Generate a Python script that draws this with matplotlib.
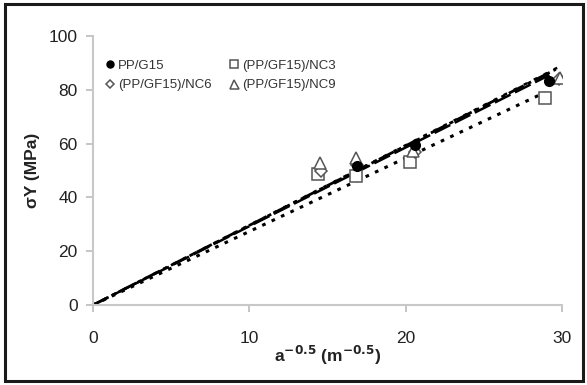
import matplotlib
matplotlib.use("Agg")
import matplotlib.pyplot as plt
from matplotlib.patches import Rectangle

plt.rcParams['font.family'] = ['Liberation Sans', 'DejaVu Sans']

# Data
series_names = ["PP/G15", "(PP/GF15)/NC3", "(PP/GF15)/NC6", "(PP/GF15)/NC9"]
g15_x = [16.9, 20.6, 29.2]
g15_y = [51.8, 59.4, 83.1]
nc3_x = [14.4, 16.8, 20.3, 28.9]
nc3_y = [48.8, 47.8, 53.1, 77.0]
nc6_x = [14.6, 16.9, 20.6, 29.8]
nc6_y = [49.9, 52.0, 56.7, 84.0]
nc9_x = [14.5, 16.85, 20.5, 29.9]
nc9_y = [52.7, 54.6, 57.4, 84.5]

# fit lines through origin: end points
fit_x_end = [29.2, 28.9, 29.6, 29.9]
fit_y_end = [85.5, 79.0, 87.6, 88.8]

xticks = [0, 10, 20, 30]
yticks = [0, 20, 40, 60, 80, 100]

fig = plt.figure(figsize=(5.87, 3.85), dpi=100)
fig.patch.set_facecolor('white')
# outer frame
fig.add_artist(Rectangle((5/587, 4/385), 578/587, 377/385, transform=fig.transFigure,
                         fill=False, edgecolor='#1a1a1a', linewidth=2.2))

ax = fig.add_axes([93/587, (385-305)/385, (562-93)/587, (305-36)/385])

gray = '#555555'
line_styles = [(0, (7, 2)), (0, (1.2, 2.2)), (0, (6, 1.5, 1.5, 1.5)), (0, (1.5, 3))]
line_widths = [1.8, 2.2, 2.0, 1.8]
for xe, ye, ls, lw in zip(fit_x_end, fit_y_end, line_styles, line_widths):
    ax.plot([0, xe], [0, ye], color='black', linestyle=ls, linewidth=lw, zorder=2)

ms = 7
h1, = ax.plot(g15_x, g15_y, 'o', color='black', markersize=ms, label=series_names[0], zorder=4)
h2, = ax.plot(nc3_x, nc3_y, 's', markerfacecolor='white', markeredgecolor=gray, markeredgewidth=1.1,
              markersize=ms + 1, label=series_names[1], zorder=3)
h3, = ax.plot(nc6_x, nc6_y, 'D', markerfacecolor='white', markeredgecolor=gray, markeredgewidth=1.1,
              markersize=ms - 1, label=series_names[2], zorder=3)
h4, = ax.plot(nc9_x, nc9_y, '^', markerfacecolor='white', markeredgecolor=gray, markeredgewidth=1.1,
              markersize=ms + 2, label=series_names[3], zorder=3)

ax.set_xlim(0, 30)
ax.set_ylim(0, 100)
ax.set_xticks(xticks)
ax.set_yticks(yticks)
ax.tick_params(axis='both', labelsize=12.5, colors='#bbbbbb', labelcolor='#222222',
               length=5, width=1.2)
ax.tick_params(axis='x', pad=14)
ax.tick_params(axis='y', pad=6)
for s in ['top', 'right']:
    ax.spines[s].set_visible(False)
for s in ['left', 'bottom']:
    ax.spines[s].set_color('#c8c8c8')
    ax.spines[s].set_linewidth(1.5)

ax.set_xlabel(r'a$^{\mathbf{-0.5}}$ (m$^{\mathbf{-0.5}}$)', fontsize=12.5, fontweight='bold',
              color='#222222', labelpad=-2)
ax.set_ylabel('σY (MPa)', fontsize=12.5, fontweight='bold', color='#222222', labelpad=6)

leg = ax.legend([h1, h3, h2, h4], [series_names[0], series_names[2], series_names[1], series_names[3]],
                ncol=2, loc='upper left', bbox_to_anchor=(0.0, 0.962), frameon=False,
                fontsize=9.5, handlelength=0.6, handletextpad=0.3, columnspacing=1.4,
                labelspacing=0.55, borderaxespad=0.6, markerscale=0.72)
for t in leg.get_texts():
    t.set_color('#333333')

fig.savefig('out.png', dpi=100, facecolor='white')
